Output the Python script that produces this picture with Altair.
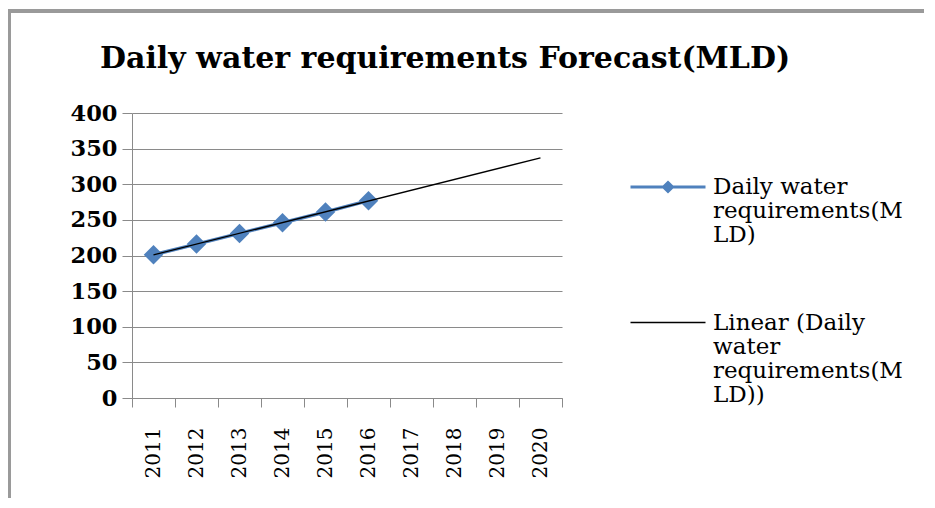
import altair as alt
import pandas as pd

# ---- data ----
years = ["2011", "2012", "2013", "2014", "2015", "2016", "2017", "2018", "2019", "2020"]
obs_years = [2011, 2012, 2013, 2014, 2015, 2016]
obs_values = [201, 216, 231, 246, 261, 277]
series_names = ["Daily water requirements(MLD)", "Linear (Daily water requirements(MLD))"]
series_colors = ["#4F81BD", "#000000"]
y_ticks = [0, 50, 100, 150, 200, 250, 300, 350, 400]
trend_extent = [2011, 2020]

df = pd.DataFrame({"year": obs_years, "value": obs_values, "series": series_names[0]})

FONT = "DejaVu Serif"
GRID = "#8a8a8a"

x_enc = alt.X(
    "yr:N",
    scale=alt.Scale(type="band", domain=years, paddingInner=0, paddingOuter=0),
    axis=alt.Axis(
        title=None, labelAngle=-90, labelFont=FONT, labelFontSize=20, labelColor="black",
        labelPadding=20, tickBand="extent", tickSize=9, tickColor=GRID, domainColor=GRID,
        grid=False,
    ),
)
y_enc = alt.Y(
    "value:Q",
    scale=alt.Scale(domain=[0, 400], nice=False, zero=True),
    axis=alt.Axis(
        title=None, values=y_ticks, labelFont=FONT, labelFontSize=22.5, labelFontWeight="bold",
        labelColor="black", labelPadding=5, tickSize=10, tickColor=GRID, domainColor=GRID,
        gridColor=GRID, gridWidth=1.2, grid=True,
    ),
)

base = alt.Chart(df).transform_calculate(yr="toString(datum.year)")

obs_line = base.mark_line(color=series_colors[0], strokeWidth=3.5).encode(x=x_enc, y=y_enc)
obs_pts = base.mark_point(shape="diamond", filled=True, size=380, color=series_colors[0], opacity=1).encode(
    x=x_enc, y=y_enc
)

trend = (
    alt.Chart(df)
    .transform_regression("year", "value", method="linear", extent=trend_extent)
    .transform_calculate(yr="toString(round(datum.year))")
    .mark_line(color=series_colors[1], strokeWidth=1.3)
    .encode(x=x_enc, y=y_enc)
)

legend_shapes = ["M-1,0H1M0,-0.12L0.12,0L0,0.12L-0.12,0Z", "M-1,0H1"]
label_expr = (
    "datum.label == '" + series_names[0] + "' ? ['Daily water', 'requirements(M', 'LD)']"
    " : ['Linear (Daily', 'water', 'requirements(M', 'LD))']"
)
legend_layer = (
    alt.Chart(df)
    .transform_filter("false")
    .mark_point(filled=True, opacity=1)
    .encode(
        fill=alt.Fill(
            "series:N",
            scale=alt.Scale(domain=series_names, range=series_colors),
            legend=alt.Legend(
                title=None, orient="none", legendX=497, legendY=35, padding=0,
                labelFont=FONT, labelFontSize=23, labelColor="black", labelLimit=0,
                labelExpr=label_expr, labelBaseline="middle", labelOffset=6,
                symbolSize=5625, rowPadding=37, symbolOpacity=1,
            ),
        ),
        stroke=alt.Stroke("series:N", scale=alt.Scale(domain=series_names, range=series_colors)),
        shape=alt.Shape("series:N", scale=alt.Scale(domain=series_names, range=legend_shapes)),
        strokeWidth=alt.StrokeWidth("series:N", scale=alt.Scale(domain=series_names, range=[3, 1.3])),
    )
)

frame_top = alt.Chart(df).mark_rule(color="#9a9a9a", strokeWidth=4).encode(
    x=alt.value(-123), x2=alt.value(820), y=alt.value(-102)
)
frame_left = alt.Chart(df).mark_rule(color="#9a9a9a", strokeWidth=4).encode(
    x=alt.value(-123), y=alt.value(-104), y2=alt.value(400)
)

chart = (
    alt.layer(frame_top, frame_left, obs_line, obs_pts, trend, legend_layer)
    .properties(
        width=430,
        height=285,
        autosize=alt.AutoSizeParams(type="none"),
        padding={"left": 124, "top": 105, "right": 362, "bottom": 100},
        title=alt.TitleParams(
            "Daily water requirements Forecast(MLD)", font=FONT, fontSize=30, fontWeight="bold",
            color="black", anchor="start", frame="group", dx=-32, offset=0, dy=67,
        ),
    )
    .configure(style={"guide-label": {"lineHeight": 24}})
    .configure_view(stroke=None)
)

chart.save("out.html", embed_options={"renderer": "svg", "actions": False})
